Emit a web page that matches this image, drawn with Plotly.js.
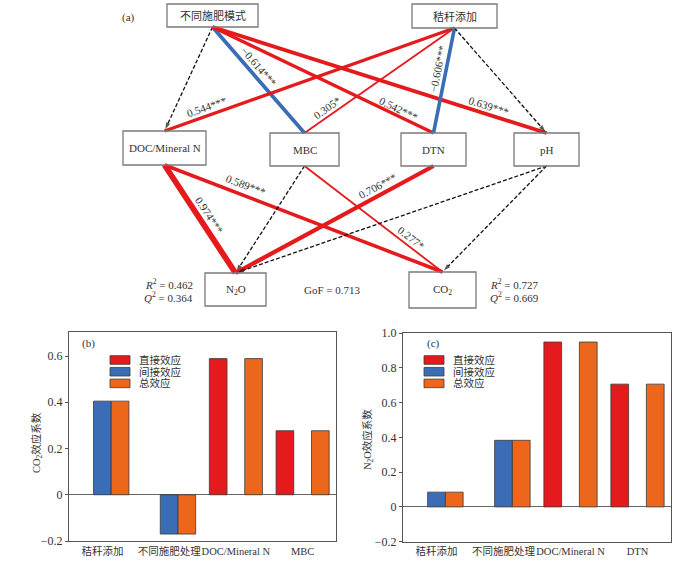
<!DOCTYPE html>
<html>
<head>
<meta charset="utf-8">
<script src="https://cdn.plot.ly/plotly-3.0.1.min.js"></script>
<style>html,body{margin:0;padding:0;background:#fff;}#chart{width:700px;height:562px;}</style>
</head>
<body>
<div id="chart"></div>
<script>
// ---------------- DATA ----------------
// Path diagram nodes
const nodeNames = ['不同施肥模式', '秸秆添加', 'DOC/Mineral N', 'MBC', 'DTN', 'pH', 'N<sub>2</sub>O', 'CO<sub>2</sub>'];
// Path edges (source index, target index, standardized coefficient, significance)
const edgeFrom = [0, 0, 0, 0, 1, 1, 1, 1, 2, 2, 3, 3, 4, 5, 5];
const edgeTo   = [2, 3, 4, 5, 2, 3, 4, 5, 6, 7, 6, 7, 6, 6, 7];
const edgeCoef = [null, -0.614, 0.542, 0.639, 0.544, 0.305, -0.606, null, 0.974, 0.589, null, 0.277, 0.706, null, null];
const edgeSig  = ['', '***', '***', '***', '***', '*', '***', '', '***', '***', '', '*', '***', '', ''];
// Model fit
const fitTargets = ['N2O', 'CO2'];
const fitR2 = [0.462, 0.727];
const fitQ2 = [0.364, 0.669];
const gof = 0.713;

// Effect bar charts
const seriesNames = ['直接效应', '间接效应', '总效应'];
const catsB = ['秸秆添加', '不同施肥处理', 'DOC/Mineral N', 'MBC'];
const directB   = [null, null, 0.589, 0.277];
const indirectB = [0.405, -0.170, null, null];
const totalB    = [0.405, -0.170, 0.589, 0.277];
const catsC = ['秸秆添加', '不同施肥处理', 'DOC/Mineral N', 'DTN'];
const directC   = [null, null, 0.948, 0.706];
const indirectC = [0.085, 0.383, null, null];
const totalC    = [0.085, 0.383, 0.948, 0.706];
const ticksB = [-0.2, 0, 0.2, 0.4, 0.6];
const ticksC = [-0.2, 0, 0.2, 0.4, 0.6, 0.8, 1.0];
const yTitles = ['CO<sub>2</sub>效应系数', 'N<sub>2</sub>O效应系数'];

// ---------------- LAYOUT CONFIG (positions / styles) ----------------
const SERIF = '"Liberation Serif", "Times New Roman", "Noto Sans CJK SC", serif';
const TXT = '#333333';
const RED = '#e41a1c', BLUE = '#3a6db5', ORANGE = '#ec671c';
const seriesColors = [RED, BLUE, ORANGE];
// node boxes in diagram pixel space: [cx, cy, w, h]
const nodeBox = [
  [212.5, 15.5, 91, 23], [454.5, 16, 85, 24],
  [164.5, 148, 83, 34], [304.5, 149.5, 69, 33], [433.5, 149.5, 65, 33], [546.5, 149.5, 65, 33],
  [235.5, 289.5, 61, 33], [442.5, 290, 67, 36]
];
// label placement along each edge: fraction t and perpendicular offset d
const labelT = [0, 0.425, 0.83, 0.819, 0.846, 0.823, 0.41, 0, 0.512, 0.278, 0, 0.739, 0.261, 0, 0];
const labelD = [0, 8.5, 7, 8, 8.8, 7.8, 8, 0, 10, 10, 0, 8, 9, 0, 0];

const traces = [];
const shapes = [];
const annotations = [];

// ---- diagram edges ----
for (let i = 0; i < edgeFrom.length; i++) {
  const s = nodeBox[edgeFrom[i]], t = nodeBox[edgeTo[i]];
  const x0 = s[0], y0 = s[1] + s[3] / 2, x1 = t[0], y1 = t[1] - t[3] / 2;
  const c = edgeCoef[i];
  const sig = c !== null;
  const color = !sig ? '#111' : (c < 0 ? BLUE : RED);
  const width = !sig ? 1.3 : Math.max(1.8, 6 * Math.abs(c));
  const len = Math.hypot(x1 - x0, y1 - y0);
  const ux = (x1 - x0) / len, uy = (y1 - y0) / len;
  if (!sig) {
    // dashed path with small arrowhead marker at its end
    traces.push({
      type: 'scatter', mode: 'lines+markers', x: [x0, x1 - ux * 2], y: [y0, y1 - uy * 2], xaxis: 'x3', yaxis: 'y3',
      line: { color: color, width: width, dash: '4px,2px' },
      marker: { symbol: 'arrow', size: [0, 7], angleref: 'previous', color: color, line: { width: 0 } },
      hoverinfo: 'skip', showlegend: false
    });
  } else {
    traces.push({
      type: 'scatter', mode: 'lines', x: [x0, x1], y: [y0, y1], xaxis: 'x3', yaxis: 'y3',
      line: { color: color, width: width }, hoverinfo: 'skip', showlegend: false
    });
    let vx = ux, vy = uy;
    if (vx < 0) { vx = -vx; vy = -vy; }
    const nx = vy, ny = -vx;
    const lx = x0 + ux * len * labelT[i] + nx * labelD[i];
    const ly = y0 + uy * len * labelT[i] + ny * labelD[i];
    const ang = Math.atan2(vy, vx) * 180 / Math.PI;
    const txt = (c < 0 ? '−' : '') + Math.abs(c).toFixed(3) + edgeSig[i];
    annotations.push({
      xref: 'x3', yref: 'y3', x: lx, y: ly, text: txt, showarrow: false, textangle: ang,
      xanchor: 'center', yanchor: 'middle', font: { family: SERIF, size: 11, color: TXT }
    });
  }
}

// ---- diagram nodes ----
for (let i = 0; i < nodeNames.length; i++) {
  const b = nodeBox[i];
  shapes.push({
    type: 'rect', xref: 'x3', yref: 'y3', x0: b[0] - b[2] / 2, x1: b[0] + b[2] / 2,
    y0: b[1] - b[3] / 2, y1: b[1] + b[3] / 2, line: { color: '#7a7a7a', width: 1.3 }, layer: 'above'
  });
  annotations.push({
    xref: 'x3', yref: 'y3', x: b[0], y: b[1], text: nodeNames[i], showarrow: false,
    xanchor: 'center', yanchor: 'middle', font: { family: SERIF, size: 11, color: TXT }
  });
}

// ---- fit statistics ----
const fitPos = [[195, 'right'], [488, 'left']];
for (let i = 0; i < fitTargets.length; i++) {
  annotations.push({ xref: 'x3', yref: 'y3', x: fitPos[i][0], y: 284, xanchor: fitPos[i][1], yanchor: 'middle',
    text: '<i>R</i><sup>2</sup> = ' + fitR2[i].toFixed(3), showarrow: false, font: { family: SERIF, size: 11, color: TXT } });
  annotations.push({ xref: 'x3', yref: 'y3', x: fitPos[i][0], y: 297, xanchor: fitPos[i][1], yanchor: 'middle',
    text: '<i>Q</i><sup>2</sup> = ' + fitQ2[i].toFixed(3), showarrow: false, font: { family: SERIF, size: 11, color: TXT } });
}
annotations.push({ xref: 'x3', yref: 'y3', x: 332, y: 290, text: 'GoF = ' + gof.toFixed(3), showarrow: false,
  xanchor: 'center', yanchor: 'middle', font: { family: SERIF, size: 11, color: TXT } });
annotations.push({ xref: 'x3', yref: 'y3', x: 128, y: 17, text: '(a)', showarrow: false,
  xanchor: 'center', yanchor: 'middle', font: { family: SERIF, size: 11, color: TXT } });

// ---- bar charts ----
const barLine = { color: '#3a3a3a', width: 0.8 };
[[directB, indirectB, totalB], [directC, indirectC, totalC]].forEach((grp, k) => {
  const cats = k === 0 ? catsB : catsC;
  grp.forEach((vals, j) => {
    traces.push({
      type: 'bar', x: cats, y: vals, name: seriesNames[j], xaxis: k === 0 ? 'x' : 'x2', yaxis: k === 0 ? 'y' : 'y2',
      marker: { color: seriesColors[j], line: barLine }, showlegend: false, hoverinfo: 'x+y'
    });
  });
});

// custom legends, panel letters and y titles (pixel space)
const legendX = [110, 424];
const panelLetters = [['(b)', 88], ['(c)', 433]];
const yTitlePos = [[37, 443], [368, 440]];
const rowY = [360, 371.7, 383.4];
for (let k = 0; k < 2; k++) {
  for (let j = 0; j < seriesNames.length; j++) {
    shapes.push({ type: 'rect', xref: 'x3', yref: 'y3', x0: legendX[k], x1: legendX[k] + 20,
      y0: rowY[j] - 4.3, y1: rowY[j] + 4.3, fillcolor: seriesColors[j], line: { color: '#3a3a3a', width: 0.8 }, layer: 'above' });
    annotations.push({ xref: 'x3', yref: 'y3', x: legendX[k] + 27, y: rowY[j], text: seriesNames[j], showarrow: false,
      xanchor: 'left', yanchor: 'middle', font: { family: SERIF, size: 10.5, color: TXT } });
  }
  annotations.push({ xref: 'x3', yref: 'y3', x: panelLetters[k][1], y: 343, text: panelLetters[k][0], showarrow: false,
    xanchor: 'center', yanchor: 'middle', font: { family: SERIF, size: 11, color: TXT } });
  annotations.push({ xref: 'x3', yref: 'y3', x: yTitlePos[k][0], y: yTitlePos[k][1], text: yTitles[k], showarrow: false,
    textangle: -90, xanchor: 'center', yanchor: 'middle', font: { family: SERIF, size: 10.5, color: TXT } });
}

const fmt = v => v === 0 ? '0' : (v < 0 ? '−' : '') + Math.abs(v).toFixed(1);
const yBase = {
  showline: true, mirror: true, linecolor: '#555', linewidth: 1, ticks: 'outside', ticklen: 3, tickcolor: '#555',
  showgrid: false, zeroline: true, zerolinecolor: '#666', zerolinewidth: 1,
  tickfont: { family: SERIF, size: 12, color: TXT }, fixedrange: true
};
const xBase = {
  showline: true, mirror: true, linecolor: '#555', linewidth: 1, ticks: '', showgrid: false, type: 'category',
  tickangle: 0, tickfont: { family: SERIF, size: 10.5, color: TXT }, fixedrange: true
};

const layout = {
  width: 700, height: 562, margin: { l: 0, r: 0, t: 0, b: 0 },
  paper_bgcolor: '#ffffff', plot_bgcolor: 'rgba(0,0,0,0)',
  barmode: 'group', bargap: 0.205, bargroupgap: 0,
  showlegend: false,
  xaxis: Object.assign({}, xBase, { domain: [69 / 700, 336 / 700], anchor: 'y' }),
  yaxis: Object.assign({}, yBase, { domain: [21 / 562, 230 / 562], anchor: 'x', range: [-0.2, 0.704],
    tickvals: ticksB, ticktext: ticksB.map(fmt) }),
  xaxis2: Object.assign({}, xBase, { domain: [403 / 700, 671 / 700], anchor: 'y2' }),
  yaxis2: Object.assign({}, yBase, { domain: [20.3 / 562, 229 / 562], anchor: 'x2', range: [-0.2, 1.0],
    tickvals: ticksC, ticktext: ticksC.map(fmt) }),
  xaxis3: { domain: [0, 1], range: [0, 700], visible: false, fixedrange: true, anchor: 'y3' },
  yaxis3: { domain: [0, 1], range: [562, 0], visible: false, fixedrange: true, anchor: 'x3' },
  shapes: shapes,
  annotations: annotations
};

Plotly.newPlot('chart', traces, layout, { displayModeBar: false, staticPlot: true });
</script>
</body>
</html>
